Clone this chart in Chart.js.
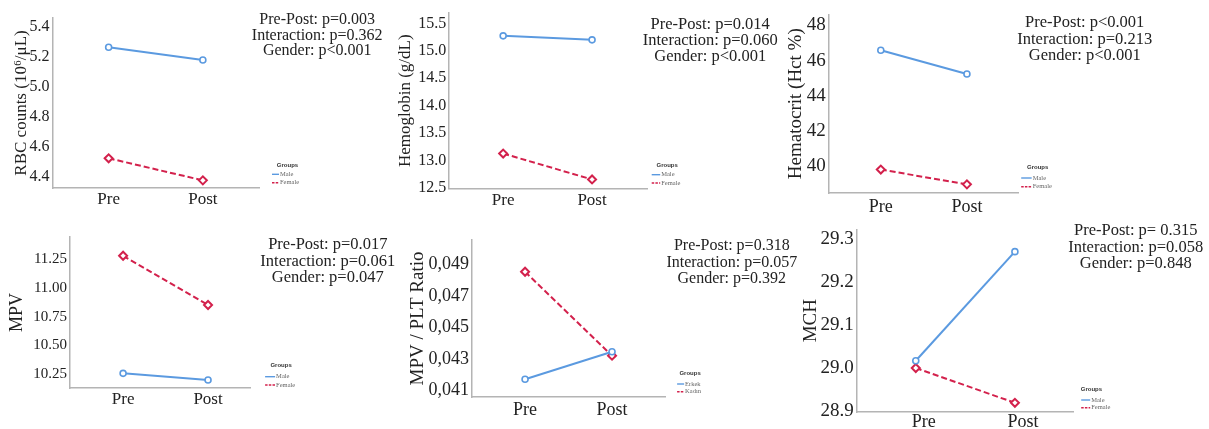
<!DOCTYPE html>
<html>
<head>
<meta charset="utf-8">
<script src="https://cdn.jsdelivr.net/npm/chart.js@4.4.0/dist/chart.umd.min.js"></script>
<style>
  html, body { margin: 0; padding: 0; background: #fff; }
  body { width: 1209px; height: 429px; position: relative; overflow: hidden; }
  canvas { position: absolute; }
</style>
</head>
<body>
<script>
// shared categories and group names
const phases = ["Pre", "Post"];
const groupsEn = ["Male", "Female"];
const groupsTr = ["Erkek", "Kadın"];

// RBC counts
const rbcMale = [5.265, 5.18];
const rbcFemale = [4.525, 4.378];
const rbcTicks = [4.4, 4.6, 4.8, 5.0, 5.2, 5.4];
const rbcTickLabels = ["4.4", "4.6", "4.8", "5.0", "5.2", "5.4"];
const rbcStats = ["Pre-Post: p=0.003", "Interaction: p=0.362", "Gender: p<0.001"];

// Hemoglobin
const hgbMale = [15.273, 15.2];
const hgbFemale = [13.127, 12.655];
const hgbTicks = [12.5, 13.0, 13.5, 14.0, 14.5, 15.0, 15.5];
const hgbTickLabels = ["12.5", "13.0", "13.5", "14.0", "14.5", "15.0", "15.5"];
const hgbStats = ["Pre-Post: p=0.014", "Interaction: p=0.060", "Gender: p<0.001"];

// Hematocrit
const hctMale = [46.58, 45.24];
const hctFemale = [39.82, 38.98];
const hctTicks = [40, 42, 44, 46, 48];
const hctTickLabels = ["40", "42", "44", "46", "48"];
const hctStats = ["Pre-Post: p<0.001", "Interaction: p=0.213", "Gender: p<0.001"];

// MPV
const mpvMale = [10.256, 10.198];
const mpvFemale = [11.283, 10.853];
const mpvTicks = [10.25, 10.5, 10.75, 11.0, 11.25];
const mpvTickLabels = ["10.25", "10.50", "10.75", "11.00", "11.25"];
const mpvStats = ["Pre-Post: p=0.017", "Interaction: p=0.061", "Gender: p=0.047"];

// MPV / PLT ratio
const ratioMale = [0.04171, 0.04346];
const ratioFemale = [0.04854, 0.04321];
const ratioTicks = [0.041, 0.043, 0.045, 0.047, 0.049];
const ratioTickLabels = ["0,041", "0,043", "0,045", "0,047", "0,049"];
const ratioStats = ["Pre-Post: p=0.318", "Interaction: p=0.057", "Gender: p=0.392"];

// MCH
const mchMale = [29.016, 29.27];
const mchFemale = [28.999, 28.918];
const mchTicks = [28.9, 29.0, 29.1, 29.2, 29.3];
const mchTickLabels = ["28.9", "29.0", "29.1", "29.2", "29.3"];
const mchStats = ["Pre-Post: p= 0.315", "Interaction: p=0.058", "Gender: p=0.848"];

const BLUE = "#5b9ae0";
const RED = "#d3214c";
const SERIF = "'Liberation Serif', 'Times New Roman', serif";

// layout of each panel, in page pixels
const panels = [
  { male: rbcMale, female: rbcFemale, ticks: rbcTicks, tickLabels: rbcTickLabels, stats: rbcStats, groups: groupsEn,
    title: "RBC counts (10⁶/μL)", titleX: 20.7, titleSize: 17, tickSize: 16, catSize: 17, catY: 199,
    top0: 0, height: 222, right0: 400,
    area: { left: 52, top: 18, bottom: 188, right: 258 }, yMin: 4.327, yMax: 5.46, xMin: -0.596, xMax: 1.596,
    statX: 316.7, statY: [20, 35.5, 51], statSize: 16,
    legend: { x: 287, y: 165, rows: [174.3, 182.7], x0: 271.5, x1: 278.5 } },
  { male: hgbMale, female: hgbFemale, ticks: hgbTicks, tickLabels: hgbTickLabels, stats: hgbStats, groups: groupsEn,
    title: "Hemoglobin (g/dL)", titleX: 405, titleSize: 17, tickSize: 16, catSize: 17, catY: 200,
    top0: 0, height: 222, right0: 790,
    area: { left: 449, top: 13, bottom: 188.5, right: 647 }, yMin: 12.49, yMax: 15.69, xMin: -0.607, xMax: 1.618,
    statX: 710, statY: [25, 40.5, 56.5], statSize: 16.5,
    legend: { x: 667, y: 165, rows: [174.7, 183], x0: 651.5, x1: 660 } },
  { male: hctMale, female: hctFemale, ticks: hctTicks, tickLabels: hctTickLabels, stats: hctStats, groups: groupsEn,
    title: "Hematocrit (Hct %)", titleX: 796.7, titleSize: 19, tickSize: 19, catSize: 18, catY: 206.7,
    top0: 0, height: 222, right0: 1209,
    area: { left: 829, top: 12, bottom: 193, right: 1018 }, yMin: 38.49, yMax: 48.615, xMin: -0.605, xMax: 1.593,
    statX: 1085, statY: [22.7, 39.3, 56], statSize: 16.5,
    legend: { x: 1038, y: 167.7, rows: [178, 186.7], x0: 1021.5, x1: 1032 } },
  { male: mpvMale, female: mpvFemale, ticks: mpvTicks, tickLabels: mpvTickLabels, stats: mpvStats, groups: groupsEn,
    title: "MPV", titleX: 16.7, titleSize: 18, tickSize: 15, catSize: 17, catY: 399,
    top0: 215, height: 214, right0: 400,
    area: { left: 70, top: 237, bottom: 388, right: 250 }, yMin: 10.128, yMax: 11.447, xMin: -0.624, xMax: 1.494,
    statX: 327.7, statY: [245, 261.7, 277.3], statSize: 16.5,
    legend: { x: 281, y: 365.7, rows: [376.7, 385], x0: 265, x1: 275 } },
  { male: ratioMale, female: ratioFemale, ticks: ratioTicks, tickLabels: ratioTickLabels, stats: ratioStats, groups: groupsTr,
    title: "MPV / PLT Ratio", titleX: 418.3, titleSize: 19, tickSize: 18, catSize: 18, catY: 409.3,
    top0: 215, height: 214, right0: 815,
    area: { left: 472, top: 240, bottom: 397, right: 665 }, yMin: 0.040587, yMax: 0.050556, xMin: -0.609, xMax: 1.609,
    statX: 731.7, statY: [245.7, 262.3, 278.3], statSize: 16,
    legend: { x: 690, y: 373, rows: [384, 391.7], x0: 677, x1: 684 } },
  { male: mchMale, female: mchFemale, ticks: mchTicks, tickLabels: mchTickLabels, stats: mchStats, groups: groupsEn,
    title: "MCH", titleX: 811.7, titleSize: 19, tickSize: 19, catSize: 18, catY: 422, catShift: 8,
    top0: 215, height: 214, right0: 1209,
    area: { left: 857, top: 227, bottom: 412, right: 1073 }, yMin: 28.8966, yMax: 29.3218, xMin: -0.596, xMax: 1.586,
    statX: 1136, statY: [231, 247.3, 263.3], statSize: 16.5,
    legend: { x: 1091.7, y: 389.3, rows: [400, 407.7], x0: 1081.5, x1: 1090.5 } }
];

function textPlugin(p, ox, oy) {
  return {
    id: "panelText",
    afterDraw(chart) {
      const ctx = chart.ctx;
      ctx.save();
      ctx.fillStyle = "#222";
      ctx.textAlign = "center";
      ctx.textBaseline = "middle";
      ctx.font = p.statSize + "px " + SERIF;
      p.stats.forEach((s, i) => ctx.fillText(s, p.statX - ox, p.statY[i] - oy));

      // small SPSS style legend
      const lg = p.legend;
      ctx.font = "bold 6px 'Liberation Sans', Arial, sans-serif";
      ctx.fillStyle = "#333";
      ctx.fillText("Groups", lg.x - ox, lg.y - oy);
      ctx.textAlign = "left";
      ctx.font = "6.5px " + SERIF;
      chart.data.datasets.forEach((ds, i) => {
        const y = lg.rows[i] - oy;
        ctx.strokeStyle = ds.borderColor;
        ctx.lineWidth = 1.4;
        ctx.setLineDash(ds.borderDash ? [2.5, 1.2] : []);
        ctx.beginPath();
        ctx.moveTo(lg.x0 - ox, y);
        ctx.lineTo(lg.x1 - ox, y);
        ctx.stroke();
        ctx.fillStyle = "#666";
        ctx.fillText(ds.label, lg.x1 + 1 - ox, y);
      });
      ctx.restore();
    }
  };
}

panels.forEach(p => {
  const left = p.titleX - 0.6 * p.titleSize;
  const width = p.right0 - left;
  const canvas = document.createElement("canvas");
  canvas.width = Math.round(width);
  canvas.height = p.height;
  canvas.style.left = left + "px";
  canvas.style.top = p.top0 + "px";
  canvas.style.width = Math.round(width) + "px";
  canvas.style.height = p.height + "px";
  document.body.appendChild(canvas);

  const yAxisW = p.area.left - left;
  const xAxisH = p.top0 + p.height - p.area.bottom;
  const catPad = p.catY - p.area.bottom - 0.56 * p.catSize;

  new Chart(canvas.getContext("2d"), {
    type: "line",
    data: {
      datasets: [
        {
          label: p.groups[0],
          data: p.male.map((v, i) => ({ x: i, y: v })),
          borderColor: BLUE,
          borderWidth: 2,
          pointStyle: "circle",
          pointRadius: 3,
          pointBorderWidth: 1.6,
          pointBackgroundColor: "#fff",
          pointBorderColor: BLUE
        },
        {
          label: p.groups[1],
          data: p.female.map((v, i) => ({ x: i, y: v })),
          borderColor: RED,
          borderWidth: 2,
          borderDash: [6, 3],
          pointStyle: "rectRot",
          pointRadius: 4,
          pointBorderWidth: 2,
          pointBackgroundColor: "#fff",
          pointBorderColor: RED
        }
      ]
    },
    options: {
      responsive: false,
      animation: false,
      devicePixelRatio: 1,
      layout: {
        padding: {
          left: 0,
          top: p.area.top - p.top0,
          right: p.right0 - p.area.right,
          bottom: 0
        }
      },
      plugins: { legend: { display: false }, tooltip: { enabled: false } },
      scales: {
        x: {
          type: "linear",
          min: p.xMin,
          max: p.xMax,
          afterBuildTicks: s => { s.ticks = phases.map((_, i) => ({ value: i })); },
          afterFit: s => { s.height = xAxisH; },
          grid: { display: false, drawTicks: false },
          border: { display: true, color: "#b4b4b4", width: 1.5 },
          ticks: {
            autoSkip: false,
            maxRotation: 0,
            padding: catPad,
            labelOffset: p.catShift || 0,
            color: "#222",
            font: { family: SERIF, size: p.catSize },
            callback: v => phases[v]
          }
        },
        y: {
          min: p.yMin,
          max: p.yMax,
          afterBuildTicks: s => { s.ticks = p.ticks.map(v => ({ value: v })); },
          afterFit: s => { s.width = yAxisW; },
          grid: { display: false, drawTicks: false },
          border: { display: true, color: "#b4b4b4", width: 1.5 },
          title: {
            display: true,
            text: p.title,
            color: "#222",
            padding: 0,
            font: { family: SERIF, size: p.titleSize }
          },
          ticks: {
            autoSkip: false,
            padding: 3,
            color: "#222",
            font: { family: SERIF, size: p.tickSize },
            callback: (v, i) => p.tickLabels[i]
          }
        }
      }
    },
    plugins: [textPlugin(p, left, p.top0)]
  });
});
</script>
</body>
</html>
